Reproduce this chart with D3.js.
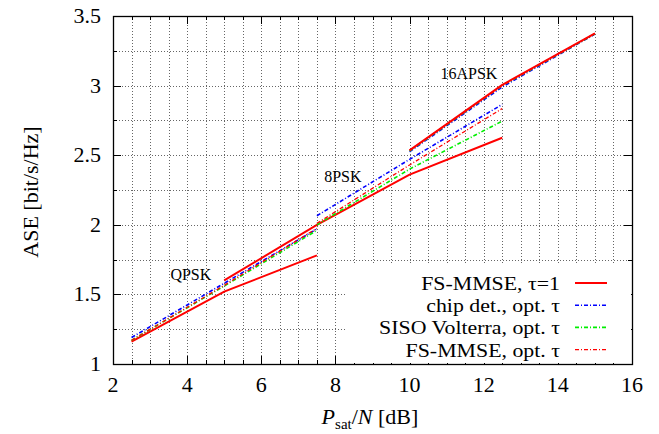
<!DOCTYPE html>
<html><head><meta charset="utf-8">
<script src="https://cdn.jsdelivr.net/npm/d3@7"></script>
<style>body{margin:0;background:#fff}svg{display:block}</style>
</head><body>
<svg id="c" width="659" height="434"></svg>
<script>
// ---- data ----
const xTicks = [2,4,6,8,10,12,14,16];
const yTicks = [1,1.5,2,2.5,3,3.5];
const seriesNames = ["FS-MMSE, \u03c4=1","chip det., opt. \u03c4","SISO Volterra, opt. \u03c4","FS-MMSE, opt. \u03c4"];
// QPSK segment
const qpskX = [2.5,5,7.5];
const qpskTau1 = [1.16,1.52,1.78];
const qpskChip = [1.19,1.58,1.97];
const qpskVolt = [1.17,1.56,1.96];
const qpskFsOpt = [1.17,1.565,1.975];
// 8PSK segment
const psk8Tau1X = [5,7.5,10,12.5];
const psk8Tau1 = [1.60,2.00,2.36,2.625];
const psk8X = [7.5,10,12.5];
const psk8Chip = [2.065,2.47,2.865];
const psk8Volt = [2.00,2.40,2.745];
const psk8FsOpt = [2.01,2.43,2.835];
// 16APSK segment
const apskX = [10,12.5,15];
const apskTau1 = [2.535,3.005,3.375];
const apskChip = [2.525,2.99,3.37];
const apskVolt = [2.53,3.0,3.372];
const apskFsOpt = [2.535,3.0,3.374];
const labels = [{t:"QPSK",x:4.1,y:1.6},{t:"8PSK",x:8.2,y:2.31},{t:"16APSK",x:11.6,y:3.05}];

// ---- chart ----
const svg = d3.select("#c");
const L=113,R=632,T=16,B=364;
const x = d3.scaleLinear().domain([2,16]).range([L,R]);
const y = d3.scaleLinear().domain([1,3.5]).range([B,T]);
const font = "'Liberation Serif','Times New Roman',serif";
const fs = 22;

// grid
const gx = d3.range(2.5,16,0.5), gy = d3.range(1.25,3.5,0.25);
const grid = svg.append("g").attr("stroke","#666").attr("stroke-width",1).attr("stroke-dasharray","1,2");
grid.selectAll(".v").data(gx).enter().append("line")
  .attr("x1",d=>Math.round(x(d))+0.5).attr("x2",d=>Math.round(x(d))+0.5).attr("y1",T).attr("y2",B);
grid.selectAll(".h").data(gy).enter().append("line")
  .attr("y1",d=>Math.round(y(d))+0.5).attr("y2",d=>Math.round(y(d))+0.5).attr("x1",L).attr("x2",R);

// ticks (inward, mirrored)
const tk = svg.append("g").attr("stroke","#000").attr("stroke-width",1);
d3.range(2,16.01,0.5).forEach(v=>{
  const len = (Math.abs(v%2)<1e-6)?8:4, px=Math.round(x(v))+0.5;
  tk.append("line").attr("x1",px).attr("x2",px).attr("y1",B).attr("y2",B-len);
  tk.append("line").attr("x1",px).attr("x2",px).attr("y1",T).attr("y2",T+len);
});
d3.range(1,3.501,0.25).forEach(v=>{
  const len = (Math.abs((v*2)%1)<1e-6)?8:4, py=Math.round(y(v))+0.5;
  tk.append("line").attr("x1",L).attr("x2",L+len).attr("y1",py).attr("y2",py);
  tk.append("line").attr("x1",R).attr("x2",R-len).attr("y1",py).attr("y2",py);
});

// axes labels
svg.append("g").selectAll("text").data(xTicks).enter().append("text")
  .attr("x",d=>x(d)).attr("y",B+28).attr("text-anchor","middle")
  .attr("font-family",font).attr("font-size",fs).text(d=>d);
svg.append("g").selectAll("text").data(yTicks).enter().append("text")
  .attr("x",L-12).attr("y",d=>y(d)+7).attr("text-anchor","end")
  .attr("font-family",font).attr("font-size",fs).text(d=>d);

svg.append("text").attr("transform","translate(38,192) rotate(-90)").attr("text-anchor","middle")
  .attr("font-family",font).attr("font-size",fs).text("ASE [bit/s/Hz]");
const xt = svg.append("text").attr("x",370).attr("y",424).attr("text-anchor","middle")
  .attr("font-family",font).attr("font-size",fs);
xt.append("tspan").attr("font-style","italic").text("P");
xt.append("tspan").attr("font-size",15).attr("dy",5).text("sat");
xt.append("tspan").attr("dy",-5).text("/");
xt.append("tspan").attr("font-style","italic").text("N");
xt.append("tspan").text(" [dB]");

// lines
const styles = [
  {c:"#ff0000",w:2,d:null},
  {c:"#0000ff",w:1.6,d:"4,2,1,2"},
  {c:"#00ee00",w:1.6,d:"4,2,1,2"},
  {c:"#ff0000",w:1.3,d:"4,2,1,2"}
];
const segs = [
  {s:0,xs:qpskX,ys:qpskTau1},{s:0,xs:psk8Tau1X,ys:psk8Tau1},
  {s:1,xs:qpskX,ys:qpskChip},{s:2,xs:qpskX,ys:qpskVolt},{s:3,xs:qpskX,ys:qpskFsOpt},
  {s:1,xs:psk8X,ys:psk8Chip},{s:2,xs:psk8X,ys:psk8Volt},{s:3,xs:psk8X,ys:psk8FsOpt},
  {s:1,xs:apskX,ys:apskChip},{s:2,xs:apskX,ys:apskVolt},{s:3,xs:apskX,ys:apskFsOpt},
  {s:0,xs:apskX,ys:apskTau1}
];
const line = d3.line().x(d=>x(d[0])).y(d=>y(d[1]));
const lg = svg.append("g").attr("fill","none");
segs.forEach(sg=>{
  const st=styles[sg.s];
  lg.append("path").datum(sg.xs.map((v,i)=>[v,sg.ys[i]])).attr("d",line)
    .attr("stroke",st.c).attr("stroke-width",st.w).attr("stroke-dasharray",st.d);
});

// modulation labels
svg.append("g").selectAll("text").data(labels).enter().append("text")
  .attr("x",d=>x(d.x)).attr("y",d=>y(d.y)).attr("text-anchor","middle")
  .attr("font-family",font).attr("font-size",16).text(d=>d.t);

// legend
const leg = svg.append("g");
leg.append("rect").attr("x",345).attr("y",263).attr("width",R-345-1).attr("height",B-263-1).attr("fill","#fff");
seriesNames.forEach((n,i)=>{
  const yy = 283+i*22.2;
  const t = leg.append("text").attr("x",560).attr("y",yy+7).attr("text-anchor","end")
    .attr("font-family",font).attr("font-size",19.5).text(n);
  const w = t.node().getComputedTextLength();
  t.attr("textLength",w*1.12).attr("lengthAdjust","spacingAndGlyphs");
  const st=styles[i];
  leg.append("line").attr("x1",575).attr("x2",607).attr("y1",yy).attr("y2",yy)
    .attr("stroke",st.c).attr("stroke-width",st.w).attr("stroke-dasharray",st.d);
});

// frame
svg.append("rect").attr("x",L+0.5).attr("y",T+0.5).attr("width",R-L).attr("height",B-T)
  .attr("fill","none").attr("stroke","#000").attr("stroke-width",1.3);
</script>
</body></html>
